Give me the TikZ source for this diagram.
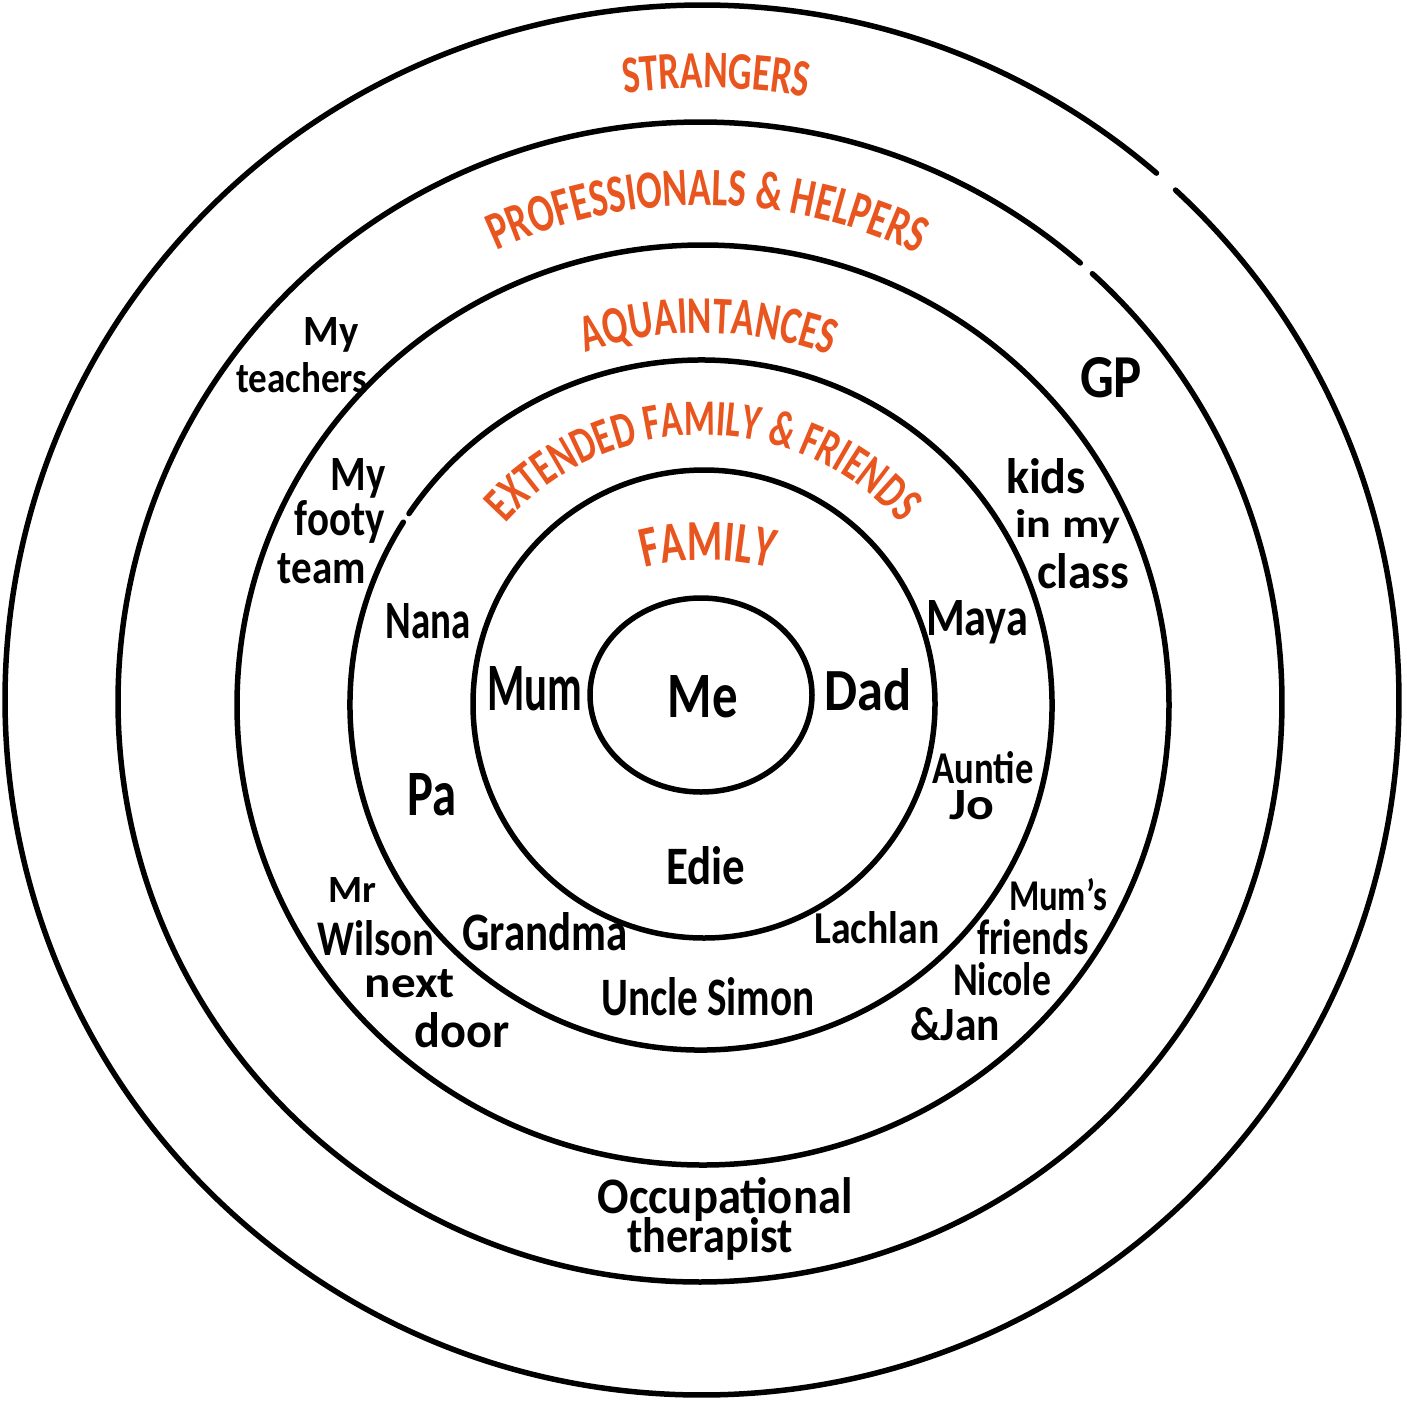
\documentclass[tikz,border=0pt]{standalone}
\usepackage{fontspec}
\setmainfont[FakeStretch=0.8]{Carlito}
\newfontfamily\orfont[FakeStretch=0.7]{Carlito}
\usetikzlibrary{decorations.text}
\definecolor{orng}{RGB}{233,85,30}
\newcommand\tx[3]{\resizebox{#1pt}{#2pt}{\bfseries #3}}
\begin{document}
\begin{tikzpicture}[x=1pt,y=1pt,
  ring/.style={line width=5.5pt, line cap=round},
  lbl/.style={anchor=base, inner sep=0pt, outer sep=0pt}]
\useasboundingbox[fill=white] (0,0) rectangle (1407,-1400);

% rings
\coordinate (c) at (703,-700);
\draw[ring] (701,-695) ellipse [x radius=111, y radius=97];
\draw[ring] (704,-704) ellipse [x radius=231, y radius=234];
\draw[ring] (701,-705) ++(148:351 and 345) arc[start angle=148, end angle=506.3, x radius=351, y radius=345];
\draw[ring] (703,-705) ellipse [x radius=466, y radius=460];
\draw[ring] (700,-702) ++(49.2:582 and 580) arc[start angle=49.2, end angle=407.6, x radius=582, y radius=580];
\draw[ring] (702,-700) ++(49.3:697 and 695) arc[start angle=49.3, end angle=407.2, x radius=697, y radius=695];

% orange ring titles
\path[decorate, decoration={text along path, text align=center,
  text={|\orfont\bfseries\fontsize{53}{53}\selectfont\color{orng}|STRANGERS}}]
  (c) ++(108.8:612) arc[start angle=108.8, end angle=68.8, radius=612];
\path[decorate, decoration={text along path, text align=center,
  text={|\orfont\bfseries\fontsize{54}{54}\selectfont\color{orng}|PROFESSIONALS {\&} HELPERS}}]
  (c) ++(129.5:495) arc[start angle=129.5, end angle=49.5, radius=495];
\path[decorate, decoration={text along path, text align=center,
  text={|\orfont\bfseries\fontsize{53}{53}\selectfont\color{orng}|AQUAINTANCES}}]
  (c) ++(139.2:367) arc[start angle=139.2, end angle=39.2, radius=367];
\path[decorate, decoration={text along path, text align=center,
  text={|\orfont\bfseries\fontsize{51}{51}\selectfont\color{orng}|EXTENDED FAMILY {\&} FRIENDS}}]
  (c) ++(180:265) arc[start angle=180, end angle=0, radius=265];
\path[decorate, decoration={text along path, text align=center,
  text={|\orfont\bfseries\fontsize{58}{58}\selectfont\color{orng}|FAMILY}}]
  (708,-810) ++(120:250) arc[start angle=120, end angle=60, radius=250];

% names
\node[lbl] (teach1) at (331,-345) {\tx{55}{28}{My}};
\node[lbl] (teach2) at (302,-392) {\tx{131}{30}{teachers}};
\node[lbl] (foot1) at (358,-490) {\tx{55}{32}{My}};
\node[lbl] (foot2) at (340,-535) {\tx{90}{35}{footy}};
\node[lbl] (foot3) at (322,-583) {\tx{88}{30}{team}};
\node[lbl] (nana) at (428,-638) {\tx{85}{35}{Nana}};
\node[lbl] (mum) at (535,-710) {\tx{95}{44}{Mum}};
\node[lbl] (me) at (703,-717) {\tx{70}{42}{Me}};
\node[lbl] (dad) at (868,-710) {\tx{87}{42}{Dad}};
\node[lbl] (maya) at (977,-635) {\tx{102}{35}{Maya}};
\node[lbl] (gp) at (1111,-397) {\tx{62}{40}{GP}};
\node[lbl] (kids1) at (1046,-493) {\tx{80}{35}{kids}};
\node[lbl] (kids2) at (1068,-537) {\tx{105}{28}{in my}};
\node[lbl] (kids3) at (1083,-588) {\tx{92}{35}{class}};
\node[lbl] (auntie1) at (983,-783) {\tx{101}{32}{Auntie}};
\node[lbl] (auntie2) at (972,-819) {\tx{45}{29}{Jo}};
\node[lbl] (pa) at (432,-815) {\tx{49}{42}{Pa}};
\node[lbl] (edie) at (706,-884) {\tx{79}{38}{Edie}};
\node[lbl] (wil1) at (352,-902) {\tx{48}{25}{Mr}};
\node[lbl] (wil2) at (376,-955) {\tx{117}{35}{Wilson}};
\node[lbl] (wil3) at (410,-997) {\tx{90}{28}{next}};
\node[lbl] (wil4) at (462,-1047) {\tx{95}{35}{door}};
\node[lbl] (grandma) at (545,-950) {\tx{165}{38}{Grandma}};
\node[lbl] (lachlan) at (877,-943) {\tx{125}{32}{Lachlan}};
\node[lbl] (simon) at (708,-1015) {\tx{213}{38}{Uncle\,Simon}};
\node[lbl] (mf1) at (1058,-910) {\tx{98}{32}{Mum’s}};
\node[lbl] (mf2) at (1033,-954) {\tx{112}{35}{friends}};
\node[lbl] (mf3) at (1002,-995) {\tx{98}{33}{Nicole}};
\node[lbl] (mf4) at (955,-1040) {\tx{90}{33}{\&Jan}};
\node[lbl] (ot1) at (725,-1213) {\tx{255}{36}{Occupational}};
\node[lbl] (ot2) at (710,-1252) {\tx{165}{35}{therapist}};
\end{tikzpicture}
\end{document}
